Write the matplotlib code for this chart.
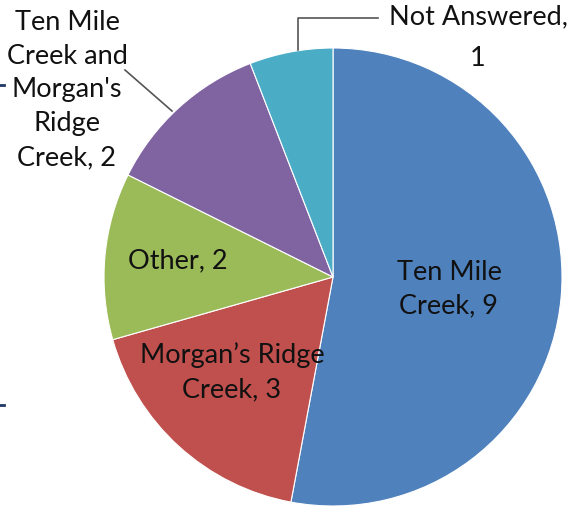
import matplotlib
matplotlib.use('Agg')
import matplotlib.pyplot as plt
from matplotlib.lines import Line2D

# slice data, in drawing order (clockwise from 12 o'clock)
categories = ['Ten Mile\nCreek, 9', 'Morgan\u2019s Ridge\nCreek, 3', 'Other, 2',
              "Ten Mile\nCreek and\nMorgan's\nRidge\nCreek, 2", 'Not Answered,\n1']
values = [9, 3, 2, 2, 1]
colors = ['#4F81BD', '#C0504D', '#9BBB59', '#8064A2', '#4BACC6']

W, H = 569, 507
plt.rcParams['font.family'] = ['Lato', 'DejaVu Sans']

fig = plt.figure(figsize=(W / 100, H / 100), dpi=100)
ax = fig.add_axes([0, 0, 1, 1])

cx, cy, r = 333, H - 277, 229
ax.pie(values, colors=colors, startangle=90, counterclock=False,
       center=(cx, cy), radius=r, frame=True,
       wedgeprops=dict(edgecolor='white', linewidth=0.8))
ax.set_xlim(0, W)
ax.set_ylim(0, H)
ax.set_aspect('equal')
ax.axis('off')

fs = 19.5
# label positions in pixel coordinates (y from top)
label_pos = [(449, 289), (232, 372), (178, 261), (67, 90), (478, 38)]
spacing = [1.45, 1.45, 1.45, 1.45, 1.85]
for text, (x, y), ls in zip(categories, label_pos, spacing):
    ax.text(x, H - y, text, fontsize=fs, ha='center', va='center',
            color='#111111', linespacing=ls)

# leader lines
ax.plot([298, 298, 378], [H - 50, H - 18, H - 18], color='#555555', lw=1.2)
ax.plot([125, 172], [H - 70, H - 111], color='#555555', lw=1.2)

# small tick marks at the left edge
for y in (85, 405):
    fig.add_artist(Line2D([0, 4 / W], [1 - y / H, 1 - y / H],
                          color='#1F3864', lw=2, transform=fig.transFigure))

fig.savefig('out.png', dpi=100, facecolor='white')
